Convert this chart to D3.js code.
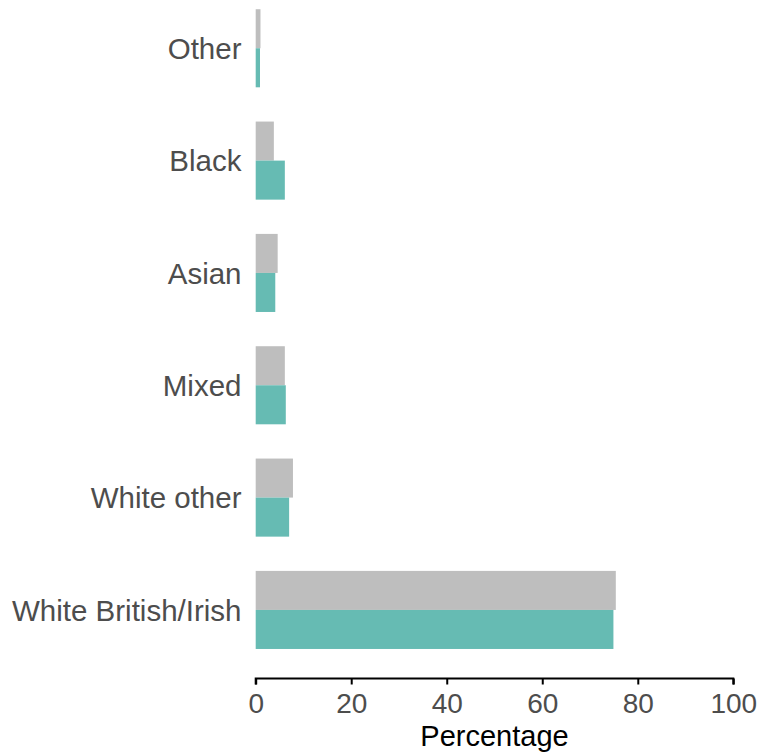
<!DOCTYPE html>
<html>
<head>
<meta charset="utf-8">
<script src="https://cdn.jsdelivr.net/npm/d3@7"></script>
<style>
  body { margin: 0; background: #fff; }
  text { font-family: "Liberation Sans", Arial, sans-serif; }
</style>
</head>
<body>
<script>
// categories top to bottom
var categories = ['Other', 'Black', 'Asian', 'Mixed', 'White other', 'White British/Irish']
// grey bar (upper) and teal bar (lower) of each group
var greyValues = [1.0, 3.8, 4.6, 6.1, 7.8, 75.4]
var tealValues = [0.9, 6.1, 4.1, 6.3, 7.0, 74.9]
var xTicks = [0, 20, 40, 60, 80, 100]

var width = 761
var height = 754

var svg = d3.select('body').append('svg')
  .attr('width', width)
  .attr('height', height)

// x scale for percentage
var x = d3.scaleLinear()
  .domain([0, 100])
  .range([255.7, 733.3])

// band per category, padding outer half of inner so steps are centred
var y = d3.scaleBand()
  .domain(categories)
  .range([-7.9, 666.1])
  .paddingInner(0.305)
  .paddingOuter(0.1525)

// sub band for the two series
var sub = d3.scaleBand()
  .domain(['grey', 'teal'])
  .range([0, y.bandwidth()])

var rows = categories.map(function (c, i) {
  return { cat: c, grey: greyValues[i], teal: tealValues[i] }
})

var group = svg.selectAll('g.row')
  .data(rows)
  .enter().append('g')
  .attr('class', 'row')
  .attr('transform', function (d) {
    return 'translate(0,' + y(d.cat) + ')'
  })

group.append('rect')
  .attr('x', x(0))
  .attr('y', sub('grey'))
  .attr('height', sub.bandwidth())
  .attr('width', function (d) { return x(d.grey) - x(0) })
  .attr('fill', '#bebebe')

group.append('rect')
  .attr('x', x(0))
  .attr('y', sub('teal'))
  .attr('height', sub.bandwidth())
  .attr('width', function (d) { return x(d.teal) - x(0) })
  .attr('fill', '#66bbb3')

// category labels
svg.selectAll('text.cat')
  .data(categories)
  .enter().append('text')
  .attr('class', 'cat')
  .attr('x', 241.5)
  .attr('y', function (d) { return y(d) + y.bandwidth() / 2 })
  .attr('dy', '0.36em')
  .attr('text-anchor', 'end')
  .attr('fill', '#4d4d4d')
  .style('font-size', '29.5px')
  .text(function (d) { return d })

// x axis
var axis = svg.append('g')
  .attr('transform', 'translate(0,678.5)')
  .call(d3.axisBottom(x).tickValues(xTicks).tickSize(6).tickPadding(8.5).tickFormat(d3.format('d')))

axis.select('.domain')
  .attr('stroke', '#000')
  .attr('stroke-width', 2)
  .attr('d', 'M' + x(0) + ',6V0H' + x(100) + 'V6')

axis.selectAll('.tick line')
  .attr('stroke', '#000')
  .attr('stroke-width', 2)

axis.selectAll('.tick text')
  .attr('fill', '#4d4d4d')
  .style('font-family', '"Liberation Sans", Arial, sans-serif')
  .style('font-size', '28px')

svg.append('text')
  .attr('x', x(50))
  .attr('y', 746)
  .attr('text-anchor', 'middle')
  .attr('fill', '#000')
  .style('font-size', '29px')
  .text('Percentage')
</script>
</body>
</html>
